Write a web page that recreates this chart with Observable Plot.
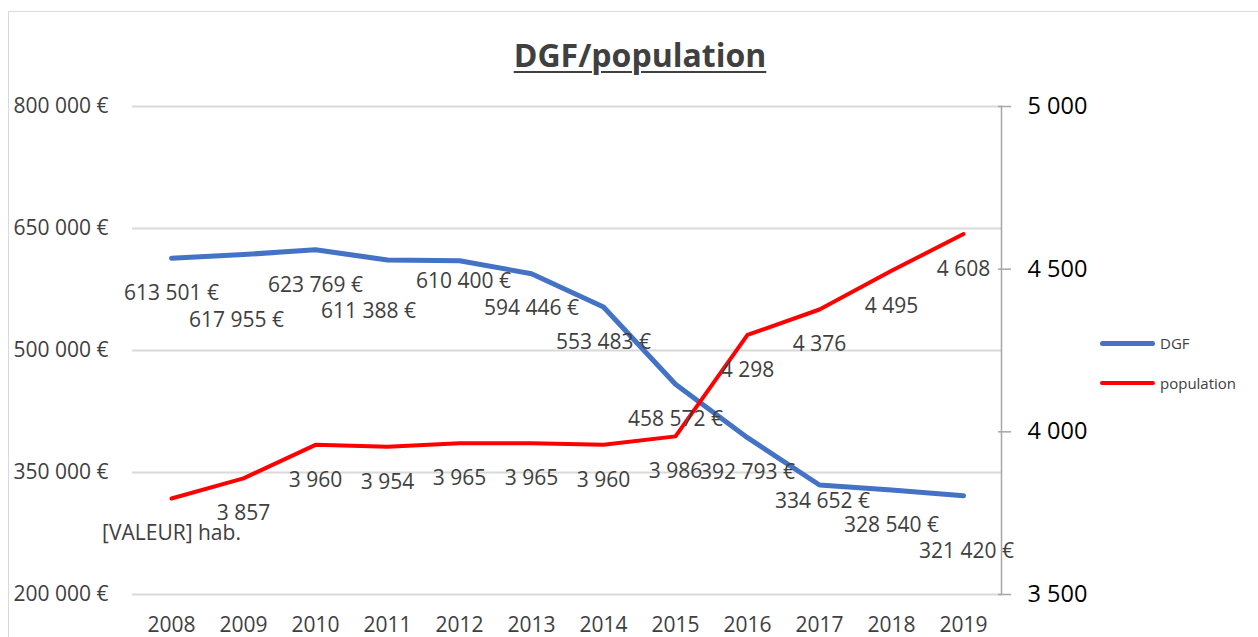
<!DOCTYPE html>
<html>
<head>
<meta charset="utf-8">
<script src="https://cdn.jsdelivr.net/npm/d3@7"></script>
<script src="https://cdn.jsdelivr.net/npm/@observablehq/plot@0.6"></script>
<style>
  body { margin: 0; overflow: hidden; background: #fff; font-family: "Open Sans", sans-serif; }
  #wrap { position: relative; width: 1258px; height: 637px; overflow: hidden; }
  #frame { position: absolute; left: 8px; top: 11px; width: 1300px; height: 700px; border: 1.5px solid #d9d9d9; box-sizing: border-box; }
  #chart { position: absolute; left: 0; top: 0; }
  #title { position: absolute; left: 0; width: 1280px; top: 33px; text-align: center; font-size: 32px; font-weight: bold; color: #404040; text-decoration: underline; text-decoration-thickness: 2px; text-underline-offset: 4px; line-height: 44px; }
  .leg { position: absolute; left: 1100px; display: flex; align-items: center; font-size: 15px; color: #404040; height: 20px; }
  .leg span.sw { display: inline-block; width: 55px; border-radius: 3px; margin-right: 5px; }
</style>
</head>
<body>
<div id="wrap">
  <div id="frame"></div>
  <div id="chart"></div>
  <div id="title">DGF/population</div>
  <div class="leg" style="top:333px"><span class="sw" style="height:5px;background:#4472C4"></span>DGF</div>
  <div class="leg" style="top:373px"><span class="sw" style="height:4px;background:#FF0000"></span>population</div>
</div>
<script>
const years = ["2008","2009","2010","2011","2012","2013","2014","2015","2016","2017","2018","2019"];
const dgf = [613501, 617955, 623769, 611388, 610400, 594446, 553483, 458572, 392793, 334652, 328540, 321420];
const population = [3795, 3857, 3960, 3954, 3965, 3965, 3960, 3986, 4298, 4376, 4495, 4608];
const firstPopLabel = "[VALEUR] hab.";
const leftTicks = [200000, 350000, 500000, 650000, 800000];
const rightTicks = [3500, 4000, 4500, 5000];

const grp = d3.format(",");
const fmt = d => grp(d).replace(/,/g, " ");
const fmtEuro = d => fmt(d) + " €";

// map the population axis onto the DGF axis
const popToY = d3.scaleLinear([3500, 5000], [200000, 800000]);

const rows = years.map((y, i) => ({
  year: y,
  dgf: dgf[i],
  pop: population[i],
  popY: popToY(population[i]),
  popLabel: i === 0 ? firstPopLabel : fmt(population[i])
}));

const txtColor = "#404040";
const dgfLabel = (yrs, dx, dy) => Plot.text(rows.filter(r => yrs.includes(r.year)), {
  x: "year", y: "dgf", text: d => fmtEuro(d.dgf), dx, dy, fill: txtColor, fontSize: 21
});

const chart = Plot.plot({
  width: 1258,
  height: 637,
  marginLeft: 132,
  marginRight: 257,
  marginTop: 106,
  marginBottom: 43,
  style: { fontFamily: "'Open Sans', sans-serif", fontSize: "21px", background: "transparent", overflow: "visible" },
  x: { type: "point", domain: years, padding: 0.5, label: null },
  y: { domain: [200000, 800000], label: null },
  marks: [
    Plot.gridY(leftTicks, { stroke: "#d9d9d9", strokeWidth: 2, strokeOpacity: 1 }),
    Plot.frame({ anchor: "right", stroke: "#a6a6a6", strokeWidth: 1.5 }),
    Plot.axisX({ tickSize: 0, tickPadding: 23, fontSize: 21, color: txtColor, label: null }),
    Plot.text(leftTicks, { y: d => d, text: fmtEuro, frameAnchor: "left", dx: -119, textAnchor: "start", fill: txtColor, fontSize: 21 }),
    Plot.axisY(rightTicks.map(popToY), {
      anchor: "right", tickSize: 9, tickPadding: 17, label: null,
      stroke: "#a6a6a6", strokeWidth: 1.5, fill: "#000", fontSize: 23.5,
      tickFormat: d => fmt(Math.round(popToY.invert(d)))
    }),
    Plot.axisY(rightTicks.map(popToY), { anchor: "right", tickSize: -4, stroke: "#a6a6a6", strokeWidth: 1.5, tickFormat: () => "", label: null }),
    Plot.line(rows, { x: "year", y: "dgf", stroke: "#4472C4", strokeWidth: 5, strokeLinecap: "round", strokeLinejoin: "round" }),
    Plot.line(rows, { x: "year", y: "popY", stroke: "#FF0000", strokeWidth: 4, strokeLinecap: "round", strokeLinejoin: "round" }),
    dgfLabel(["2008","2010","2013","2014","2015","2016","2018"], 0, 35),
    dgfLabel(["2009"], -7, 66),
    dgfLabel(["2011"], -19, 51),
    dgfLabel(["2012"], 4, 21),
    dgfLabel(["2017"], 3, 16),
    dgfLabel(["2019"], 3, 56),
    Plot.text(rows, { x: "year", y: "popY", text: "popLabel", dy: 35, fill: txtColor, fontSize: 21 })
  ]
});
document.getElementById("chart").appendChild(chart);
</script>
</body>
</html>
